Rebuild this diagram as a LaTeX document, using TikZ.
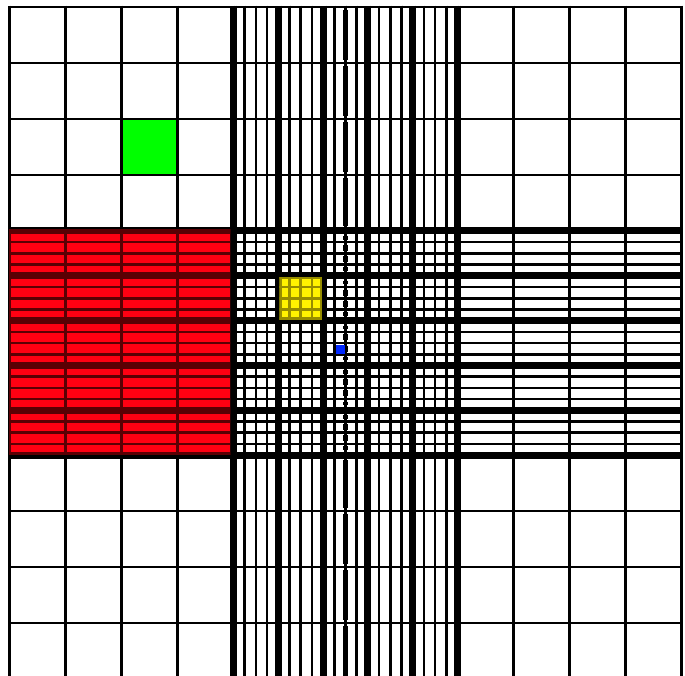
\documentclass[tikz,border=0pt]{standalone}
\definecolor{myred}{RGB}{255,0,18}
\definecolor{darkred}{RGB}{90,0,4}
\definecolor{mygreen}{RGB}{0,255,0}
\definecolor{myyellow}{RGB}{255,242,0}
\definecolor{darkyellow}{RGB}{150,140,0}
\definecolor{myblue}{RGB}{0,40,255}
\tikzset{
  mmline/.style={line width=2.6pt},
  dashseg/.style={line width=5pt},
}
\newcommand\hemogrid{%
  % 1 mm lines over the whole field
  \foreach \i in {0,...,12}{%
    \draw[mmline] ({9.5+56*\i},5.7) -- ({9.5+56*\i},676);
    \draw[mmline] (8.2,{7+56*\i}) -- (682.8,{7+56*\i});
  }%
  % central column and central row subdivisions
  \foreach \k in {0,...,20}{%
    \pgfmathtruncatemacro\m{mod(\k,4)}%
    \pgfmathsetmacro\lw{\m==0 ? 7 : 2.6}%
    \pgfmathsetmacro\xx{233.5+11.2*\k}%
    \pgfmathsetmacro\yy{231+11.2*\k}%
    \draw[line width=\lw pt] (\xx,5.7) -- (\xx,676);
    \draw[line width=\lw pt] (8.2,\yy) -- (682.8,\yy);
  }%
  % heavy vertical centre line, broken at every crossing line
  \foreach \a/\b in {10/60, 66/116, 122/172, 178/226,
                     460/508, 514/564, 570/620, 626/676}{%
    \draw[dashseg] (345.5,\a) -- (345.5,\b);
  }%
  \foreach \k in {0,...,19}{%
    \pgfmathtruncatemacro\m{mod(\k,4)}%
    \pgfmathtruncatemacro\n{mod(\k+1,4)}%
    \pgfmathsetmacro\ia{\m==0 ? 5 : 2.6}%
    \pgfmathsetmacro\ib{\n==0 ? 5 : 2.6}%
    \pgfmathsetmacro\ya{231+11.2*\k+\ia}%
    \pgfmathsetmacro\yb{231+11.2*(\k+1)-\ib}%
    \draw[dashseg] (345.5,\ya) -- (345.5,\yb);
  }%
}
\begin{document}
\begin{tikzpicture}[x=1pt,y=-1pt]
\useasboundingbox (0,0) rectangle (685,676);
\clip (0,0) rectangle (685,676);
\fill[white] (0,0) rectangle (685,676);
% green square
\fill[mygreen] (121.5,119) rectangle (177.5,175);
% black grid
\begin{scope}[color=black]
  \hemogrid
\end{scope}
% red square (left middle)
\begin{scope}
  \clip (9.5,229.5) rectangle (230,454.5);
  \fill[myred] (0,0) rectangle (685,676);
  \begin{scope}[color=darkred]
    \hemogrid
  \end{scope}
\end{scope}
% yellow group
\begin{scope}
  \clip (279.6,277.1) rectangle (321.8,319.3);
  \fill[myyellow] (0,0) rectangle (685,676);
  \begin{scope}[color=darkyellow]
    \hemogrid
  \end{scope}
\end{scope}
% blue small square
\fill[myblue] (335.5,344.5) rectangle (345,353.5);
\end{tikzpicture}
\end{document}
